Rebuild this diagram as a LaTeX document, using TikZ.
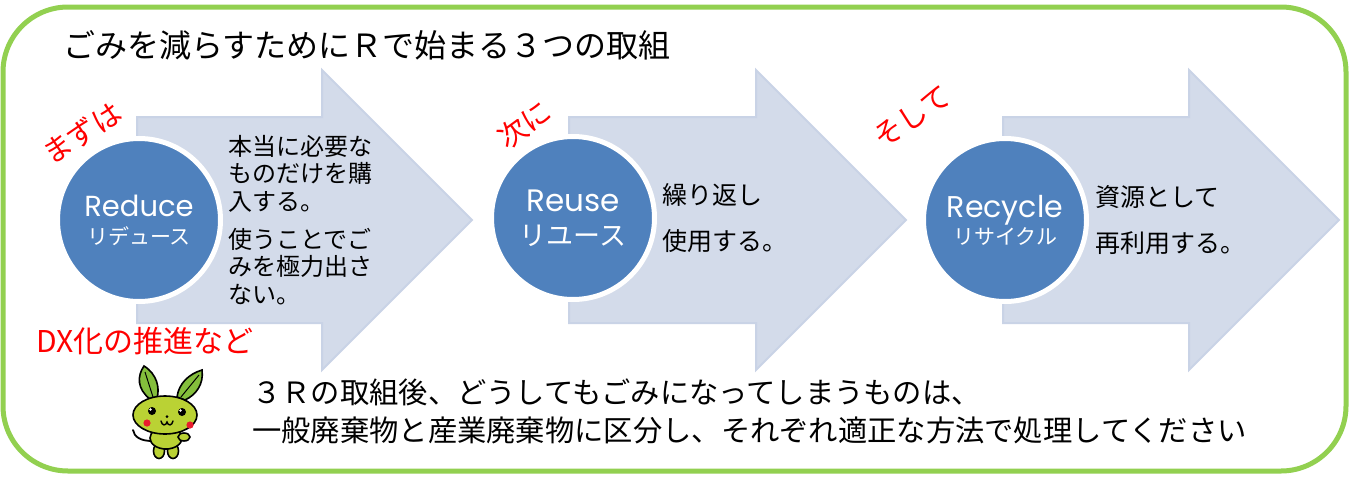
\documentclass[tikz,border=0pt]{standalone}
\usepackage{fontspec}
\usepackage{xcolor}
\usepackage{tikz}
\usetikzlibrary{positioning}

\setmainfont{Noto Sans CJK JP}
\newfontfamily\latinfont{Poppins}

\definecolor{framegreen}{RGB}{146,208,80}
\definecolor{arrowfill}{RGB}{211,219,234}
\definecolor{arrowline}{RGB}{201,211,230}
\definecolor{stepblue}{RGB}{79,129,189}
\definecolor{mascotbody}{RGB}{186,210,52}
\definecolor{mascotleaf}{RGB}{132,190,60}
\definecolor{cheekred}{RGB}{232,28,46}

\begin{document}
\begin{tikzpicture}[
  x=1pt, y=-1pt,
  bigarrow/.style={
    fill=arrowfill,
    draw=arrowline,
    line width=2pt,
    line join=miter
  },
  stepcircle/.style={
    circle,
    fill=stepblue,
    draw=white,
    line width=5pt,
    minimum size=163pt,
    inner sep=0pt,
    text=white,
    align=center
  },
  desc/.style={
    align=left,
    inner sep=0pt,
    anchor=west
  },
  redtag/.style={
    text=red,
    inner sep=0pt,
    font=\fontsize{29}{32}\selectfont
  },
  outline/.style={draw=black, line width=1.6pt}
]
\useasboundingbox (0,0) rectangle (1353,477);

% Rahmen
\draw[framegreen, line width=5pt, rounded corners=65pt] (3,7) rectangle (1346,471);

% Titel
\node[anchor=west, inner sep=0pt, font=\fontsize{32}{36}\selectfont] (title) at (63,45)
  {ごみを減らすためにＲで始まる３つの取組};

% Pfeile
\draw[bigarrow] (137,117) -- ++(185,0) -- ++(0,-47) -- ++(150,150)
  -- ++(-150,150) -- ++(0,-47) -- ++(-185,0) -- cycle;
\draw[bigarrow] (569,117) -- ++(187,0) -- ++(0,-47) -- ++(150,150)
  -- ++(-150,150) -- ++(0,-47) -- ++(-187,0) -- cycle;
\draw[bigarrow] (1003,117) -- ++(186,0) -- ++(0,-47) -- ++(150,150)
  -- ++(-150,150) -- ++(0,-47) -- ++(-186,0) -- cycle;

% Reduce
\node[stepcircle, font=\fontsize{21}{28}\selectfont] (reduce) at (139,220) {%
  {\latinfont\fontsize{29}{30}\selectfont Reduce}\\
  リデュース
};
\node[desc, right=5pt of reduce, font=\fontsize{24}{27.3}\selectfont] (reducetxt) {%
  本当に必要な\\
  ものだけを購\\
  入する。\\[11pt]
  使うことでご\\
  みを極力出さ\\
  ない。
};

% Reuse
\node[stepcircle, font=\fontsize{27}{34}\selectfont] (reuse) at (573,218) {%
  {\latinfont\fontsize{31}{32}\selectfont Reuse}\\
  リユース
};
\node[desc, right=5pt of reuse, font=\fontsize{25}{46}\selectfont] (reusetxt) {%
  繰り返し\\
  使用する。
};

% Recycle
\node[stepcircle, font=\fontsize{21}{27}\selectfont] (recycle) at (1005,220) {%
  {\latinfont\fontsize{30}{31}\selectfont Recycle}\\
  リサイクル
};
\node[desc, right=6pt of recycle, font=\fontsize{25}{46}\selectfont] (recycletxt) {%
  資源として\\
  再利用する。
};

% Beschriftungen in Rot
\node[redtag, rotate=33] (first) at (82,133) {まずは};
\node[redtag, rotate=36] (next) at (524,125) {次に};
\node[redtag, rotate=34] (then) at (912,117) {そして};
\node[redtag, anchor=west, font=\fontsize{30}{34}\selectfont] (dx) at (36,341) {DX化の推進など};

% Maskottchen
\draw[line width=1.8pt, line cap=round] (152,441) .. controls (141,441) and (134,437) .. (133,430);
\draw[outline, fill=mascotbody] (159,451) ellipse [x radius=5.5pt, y radius=7.5pt];
\draw[outline, fill=mascotbody] (173,451) ellipse [x radius=5.5pt, y radius=7.5pt];
\draw[outline, fill=mascotbody] (166,438) ellipse [x radius=16pt, y radius=11pt];
\draw[outline, fill=mascotbody] (184,437) ellipse [x radius=6pt, y radius=4pt];
\draw[outline, fill=mascotleaf] (150,399) .. controls (137,389) and (137,376) .. (144,366)
  .. controls (157,374) and (160,388) .. (157,398) -- cycle;
\draw[black, line width=1pt] (153,397) -- (145,372);
\draw[outline, fill=mascotleaf] (177,397) .. controls (179,383) and (189,374) .. (202,370)
  .. controls (204,384) and (196,395) .. (185,400) -- cycle;
\draw[black, line width=1pt] (181,397) -- (199,375);
\draw[outline, fill=mascotbody] (165,415) ellipse [x radius=32pt, y radius=19pt];
\fill[black] (152,411) circle [radius=4pt];
\fill[black] (182,412) circle [radius=4pt];
\fill[white] (150.5,409.5) circle [radius=1.4pt];
\fill[white] (180.5,410.5) circle [radius=1.4pt];
\fill[black] (167,416.5) circle [radius=1.5pt];
\draw[black, line width=1.4pt, line cap=round] (161,421) .. controls (162,426) and (166,426) .. (167,422)
  .. controls (168,426) and (172,426) .. (173,421);
\fill[cheekred] (147,423) circle [radius=3.6pt];
\fill[cheekred] (190,425) circle [radius=3.6pt];

% Hinweis unten
\node[desc, font=\fontsize{29.3}{38}\selectfont] (note) at (252,411) {%
  ３Ｒの取組後、どうしてもごみになってしまうものは、\\
  一般廃棄物と産業廃棄物に区分し、それぞれ適正な方法で処理してください
};

\end{tikzpicture}
\end{document}
